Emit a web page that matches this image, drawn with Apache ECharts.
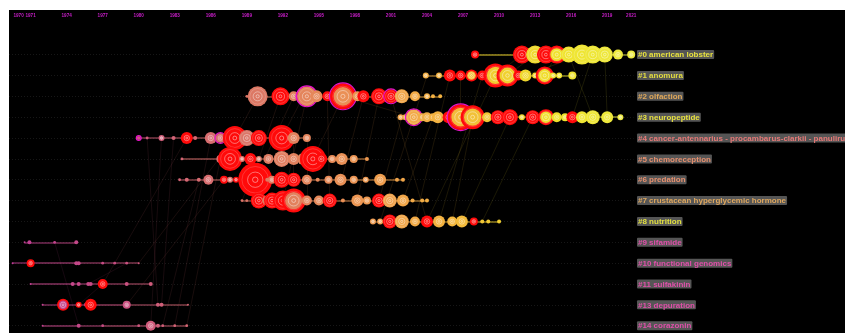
<!DOCTYPE html>
<html>
<head>
<meta charset="utf-8">
<title>Timeline view of co-citation clusters</title>
<script src="https://cdn.jsdelivr.net/npm/echarts@6/dist/echarts.min.js"></script>
<style>
  html, body { margin: 0; padding: 0; background: #ffffff; }
  #chart { width: 845px; height: 333px; }
</style>
</head>
<body>
<div id="chart"></div>
<script>
// ---- data -------------------------------------------------------------
const tickYears = [1970, 1971, 1974, 1977, 1980, 1983, 1986, 1989, 1992, 1995,
                   1998, 2001, 2004, 2007, 2010, 2013, 2016, 2019, 2021];

const clusterLabels = [
  '#0 american lobster', '#1 anomura', '#2 olfaction', '#3 neuropeptide',
  '#4 cancer-antennarius - procambarus-clarkii - panulirus-argus',
  '#5 chemoreception', '#6 predation', '#7 crustacean hyperglycemic hormone',
  '#8 nutrition', '#9 sifamide', '#10 functional genomics', '#11 sulfakinin',
  '#13 depuration', '#14 corazonin'
];

// [publication year, citation frequency, node kind]
// kind: n = plain, b = citation burst, c = burst with year core, m = high centrality
const cluster0 = [[2008.0,16,'b'],[2011.9,81,'b'],[2013.0,81,'n'],[2013.9,81,'b'],[2014.8,81,'c'],
  [2015.8,64,'n'],[2016.9,100,'n'],[2017.8,81,'n'],[2018.8,64,'n'],[2019.9,25,'n'],[2021.0,16,'n']];
const cluster1 = [[2003.9,9,'n'],[2005.0,9,'n'],[2005.9,36,'b'],[2006.8,25,'b'],[2007.7,36,'c'],
  [2008.6,25,'b'],[2009.7,144,'c'],[2010.7,121,'c'],[2011.6,25,'b'],[2012.2,36,'n'],[2013.0,9,'n'],
  [2013.8,81,'c'],[2014.5,9,'n'],[2015.0,9,'n'],[2016.1,16,'n']];
const cluster2 = [[1989.0,2,'n'],[1989.5,4,'n'],[1989.9,100,'n'],[1991.8,81,'b'],[1992.9,25,'n'],
  [1993.7,49,'bm'],[1994.0,100,'m'],[1994.8,36,'n'],[1995.7,25,'b'],[1997.0,169,'cm'],[1998.2,25,'n'],
  [1998.7,36,'b'],[2000.0,64,'b'],[2001.0,49,'bm'],[2001.9,49,'n'],[2003.0,25,'n'],[2004.0,9,'n'],
  [2004.5,4,'n'],[2005.1,4,'n']];
const cluster3 = [[2001.8,9,'n'],[2002.2,9,'n'],[2002.9,64,'m'],[2003.6,16,'n'],[2004.0,25,'n'],
  [2004.5,16,'n'],[2004.9,36,'n'],[2005.8,36,'b'],[2006.8,169,'cm'],[2007.8,144,'c'],[2009.0,25,'n'],
  [2009.9,49,'b'],[2010.9,64,'b'],[2011.9,9,'n'],[2012.8,49,'b'],[2013.9,64,'c'],[2014.8,25,'n'],
  [2015.5,16,'n'],[2016.1,36,'b'],[2016.9,36,'n'],[2017.8,49,'n'],[2019.0,36,'n'],[2020.1,9,'n']];
const cluster4 = [[1980.0,4,'m'],[1980.7,2,'n'],[1981.9,9,'n'],[1982.9,4,'n'],[1984.0,36,'b'],
  [1984.7,4,'n'],[1986.0,36,'n'],[1986.8,25,'m'],[1988.0,144,'b'],[1989.0,64,'n'],[1990.0,64,'b'],
  [1991.9,169,'b'],[1992.9,36,'n'],[1994.0,16,'n']];
const cluster5 = [[1983.6,2,'n'],[1986.8,16,'n'],[1987.6,144,'b'],[1988.6,9,'n'],[1989.3,36,'b'],
  [1990.0,9,'n'],[1990.8,25,'n'],[1991.9,64,'n'],[1992.9,36,'n'],[1993.7,36,'n'],[1994.5,169,'b'],
  [1995.2,36,'b'],[1996.1,16,'n'],[1996.9,36,'n'],[1997.9,16,'n'],[1999.0,4,'n']];
const cluster6 = [[1983.4,2,'n'],[1984.0,4,'n'],[1985.0,4,'n'],[1985.8,25,'n'],[1987.1,16,'b'],
  [1987.6,9,'n'],[1988.1,9,'b'],[1988.7,4,'n'],[1989.7,289,'b'],[1990.7,4,'n'],[1991.1,16,'n'],
  [1991.9,64,'b'],[1992.9,49,'b'],[1994.0,25,'n'],[1994.9,4,'n'],[1995.8,16,'n'],[1996.8,36,'n'],
  [1997.9,16,'n'],[1998.9,9,'n'],[2000.1,36,'n'],[2001.5,4,'n'],[2002.0,4,'n']];
const cluster7 = [[1988.6,2,'n'],[1989.0,2,'n'],[1990.0,64,'b'],[1990.7,25,'n'],[1991.1,64,'b'],
  [1992.0,100,'b'],[1992.9,144,'c'],[1994.0,25,'n'],[1995.0,25,'n'],[1995.9,49,'b'],[1997.0,4,'n'],
  [1998.2,36,'n'],[1999.0,16,'n'],[2000.0,49,'b'],[2000.9,49,'n'],[2002.0,36,'n'],[2002.8,4,'n'],
  [2003.6,4,'n'],[2004.0,4,'n']];
const cluster8 = [[1999.5,9,'n'],[2000.1,9,'n'],[2000.9,49,'b'],[2001.9,49,'n'],[2003.0,25,'n'],
  [2004.0,36,'b'],[2005.0,36,'n'],[2006.1,25,'n'],[2006.9,36,'n'],[2007.9,16,'b'],[2008.6,4,'n'],
  [2009.1,4,'n'],[2010.0,4,'n']];
const cluster9 = [[1970.5,1,'n'],[1970.9,4,'n'],[1973.0,2,'n'],[1974.8,4,'n']];
const cluster10 = [[1969.5,1,'n'],[1971.0,16,'b'],[1974.8,4,'n'],[1975.0,4,'n'],[1977.0,2,'n'],
  [1978.0,2,'n'],[1979.0,2,'n'],[1980.0,1,'n']];
const cluster11 = [[1971.0,1,'n'],[1974.5,4,'n'],[1975.0,4,'n'],[1975.8,4,'n'],[1976.0,4,'n'],
  [1977.0,25,'b'],[1979.0,4,'n'],[1981.0,4,'n']];
const cluster13 = [[1972.0,1,'n'],[1973.7,36,'c'],[1975.0,9,'b'],[1975.6,4,'n'],[1976.0,36,'b'],
  [1979.0,16,'n'],[1981.6,4,'n'],[1981.9,4,'n'],[1984.1,1,'n']];
const cluster14 = [[1972.0,1,'n'],[1975.0,4,'n'],[1977.0,2,'n'],[1980.0,2,'n'],[1981.0,25,'n'],
  [1981.6,4,'n'],[1982.0,2,'n'],[1983.0,2,'n'],[1984.0,2,'n']];

// co-citation links between clusters: [yearA, rowA, yearB, rowB]
const links = [
  [1980.7,4,1981.6,12],[1981.9,4,1981.0,13],[1982.9,4,1981.9,12],[1984.0,4,1977.0,11],
  [1985.0,6,1982.0,13],[1986.0,4,1983.0,13],[1986.8,5,1984.0,13],[1987.1,6,1979.0,12],
  [1988.0,4,1980.0,10],[1973.0,9,1975.0,13],[1979.0,10,1975.8,11],[1977.0,11,1975.0,12],
  [1989.9,2,1988.0,4],[1991.8,2,1990.0,5],[1992.9,2,1989.7,6],[1994.0,2,1992.0,7],
  [1997.0,2,1994.5,5],[1998.7,2,1996.9,6],[2000.0,2,1998.2,7],[1993.7,2,1991.9,4],
  [1995.7,2,1995.9,7],[1990.0,5,1988.6,7],[1992.9,4,1992.9,6],[1994.0,4,1994.0,7],
  [2002.9,3,1997.0,2],[2004.0,8,2001.0,2],[2004.0,1,2002.9,3],[2006.8,1,2006.8,3],
  [2009.7,1,2004.0,8],[2011.9,0,2009.7,1],[2013.0,0,2010.7,1],[2014.8,0,2013.8,1],
  [2016.9,0,2012.2,1],[2017.8,0,2016.1,3],[2018.8,0,2019.0,3],[2015.8,0,2017.8,3],
  [2007.8,3,2006.1,8],[2010.9,3,2006.9,8],[2005.9,1,2003.0,8],[2002.9,3,2000.1,8],
  [2008.6,1,2005.0,8],[2012.8,3,2008.6,8],[2001.9,3,2000.0,7],[2004.5,3,2002.0,7]
];

const clusters = [cluster0, cluster1, cluster2, cluster3, cluster4, cluster5, cluster6,
  cluster7, cluster8, cluster9, cluster10, cluster11, cluster13, cluster14];

// ---- styling ----------------------------------------------------------
const labelColors = ['#e8e23e', '#e2dc40', '#e0a85a', '#e8e240', '#e87a78', '#e8906e',
  '#e8906e', '#e0a85e', '#e2e040', '#e050aa', '#e050aa', '#e050aa', '#e050aa', '#e050aa'];

// year -> node colour (magenta for early years, through salmon and orange, to yellow)
const colorStops = [
  [1969, [190, 60, 150]], [1978, [200, 78, 130]], [1984, [214, 104, 116]],
  [1990, [220, 120, 100]], [1996, [232, 140, 88]], [2001, [240, 162, 76]],
  [2006, [244, 182, 62]], [2010, [240, 206, 48]], [2015, [240, 226, 44]], [2022, [236, 236, 70]]
];
function yearRGB(y) {
  if (y <= colorStops[0][0]) return colorStops[0][1];
  for (let i = 1; i < colorStops.length; i++) {
    const [y1, c1] = colorStops[i];
    const [y0, c0] = colorStops[i - 1];
    if (y <= y1) {
      const t = (y - y0) / (y1 - y0);
      return c0.map((v, k) => Math.round(v + (c1[k] - v) * t));
    }
  }
  return colorStops[colorStops.length - 1][1];
}
function yearColor(y, a) {
  const c = yearRGB(y);
  return a == null ? `rgb(${c[0]},${c[1]},${c[2]})` : `rgba(${c[0]},${c[1]},${c[2]},${a})`;
}

// axis extents: about 12 px per year, the label column starts near 2021.3
const X_MIN = 1969.2, X_MAX = 2038.8, GUIDE_END = 2021.2;
const Y_MIN = -2.14, Y_MAX = 13.35;

// ---- derived series data ----------------------------------------------
const nodes = [];
const segments = [];
clusters.forEach((list, row) => {
  const sorted = list.slice().sort((a, b) => a[0] - b[0]);
  sorted.forEach(([year, freq, kind], i) => {
    nodes.push({ year, row, freq, kind });
    if (i > 0) {
      segments.push({
        coords: [[sorted[i - 1][0], row], [year, row]],
        lineStyle: { color: yearColor(year) }
      });
    }
  });
});

const guides = clusters.map((_, row) => ({ coords: [[X_MIN, row], [GUIDE_END, row]] }));
const linkData = links.map(([ya, ra, yb, rb]) => ({
  coords: [[ya, ra], [yb, rb]],
  lineStyle: { color: yearColor(Math.max(ya, yb), 0.38) }
}));

function renderNode(params, api) {
  const n = nodes[params.dataIndex];
  const p = api.coord([n.year, n.row]);
  const r = Math.sqrt(n.freq);
  const burst = n.kind.indexOf('b') >= 0 || n.kind.indexOf('c') >= 0;
  const kids = [{
    type: 'circle', shape: { cx: p[0], cy: p[1], r },
    style: { fill: burst ? '#ff0a0a' : yearColor(n.year) }
  }];
  if (n.kind.indexOf('c') >= 0) {
    kids.push({ type: 'circle', shape: { cx: p[0], cy: p[1], r: r * 0.72 },
      style: { fill: yearColor(n.year) } });
  }
  if (r >= 3) {
    kids.push({ type: 'circle', shape: { cx: p[0], cy: p[1], r: r * 0.45 },
      style: { fill: 'none', stroke: 'rgba(255,255,255,0.5)', lineWidth: 0.8 } });
    kids.push({ type: 'circle', shape: { cx: p[0], cy: p[1], r: Math.max(r * 0.16, 0.8) },
      style: { fill: 'none', stroke: 'rgba(255,255,255,0.75)', lineWidth: 0.6 } });
  }
  if (r >= 7) {
    kids.push({ type: 'circle', shape: { cx: p[0], cy: p[1], r: r * 0.78 },
      style: { fill: 'none', stroke: 'rgba(255,255,255,0.22)', lineWidth: 0.8 } });
  }
  if (n.kind.indexOf('m') >= 0) {
    kids.push({ type: 'circle', shape: { cx: p[0], cy: p[1], r: r + 0.4 },
      style: { fill: 'none', stroke: '#e614c8', lineWidth: 1.2 } });
  }
  return { type: 'group', children: kids };
}

// ---- chart ------------------------------------------------------------
const chart = echarts.init(document.getElementById('chart'), null, { renderer: 'canvas' });
chart.setOption({
  backgroundColor: '#ffffff',
  animation: false,
  grid: { left: 9, right: 0, top: 10, bottom: 0, show: true, backgroundColor: '#000000',
          borderColor: '#3c3c3c', borderWidth: 0, containLabel: false, outerBoundsMode: 'none' },
  xAxis: {
    type: 'value', position: 'top', min: X_MIN, max: X_MAX,
    axisLine: { show: false }, axisTick: { show: false }, splitLine: { show: false },
    axisLabel: {
      customValues: tickYears, inside: true, margin: 3, hideOverlap: false,
      color: '#c81ec8', fontSize: 4.6, fontWeight: 'bold',
      fontFamily: 'Liberation Sans, Arial, sans-serif',
      formatter: v => String(Math.round(v))
    }
  },
  yAxis: {
    type: 'value', inverse: true, min: Y_MIN, max: Y_MAX, position: 'right', offset: -208,
    axisLine: { show: false }, axisTick: { show: false }, splitLine: { show: false },
    axisLabel: {
      customValues: clusterLabels.map((_, i) => i), margin: 0, align: 'left', hideOverlap: false,
      formatter: v => `{c${Math.round(v)}|${clusterLabels[Math.round(v)]}}`,
      rich: Object.fromEntries(labelColors.map((c, i) => [`c${i}`, {
        color: c, fontSize: 8, fontWeight: 'bold', lineHeight: 10,
        fontFamily: 'Liberation Sans, Arial, sans-serif',
        backgroundColor: '#555555', padding: [1, 1, 0, 1], borderRadius: 1
      }]))
    }
  },
  series: [
    {
      type: 'lines', coordinateSystem: 'cartesian2d', silent: true, z: 1,
      lineStyle: { color: '#2e2e2e', width: 1, type: [1, 2] },
      data: guides
    },
    {
      type: 'lines', coordinateSystem: 'cartesian2d', silent: true, z: 2,
      lineStyle: { width: 0.6 },
      data: linkData
    },
    {
      type: 'lines', coordinateSystem: 'cartesian2d', silent: true, z: 3,
      lineStyle: { width: 1.8 },
      data: segments
    },
    {
      type: 'custom', coordinateSystem: 'cartesian2d', silent: true, z: 4,
      renderItem: renderNode,
      data: nodes.map((n, i) => [n.year, n.row, n.freq, i])
    }
  ]
});
</script>
</body>
</html>
